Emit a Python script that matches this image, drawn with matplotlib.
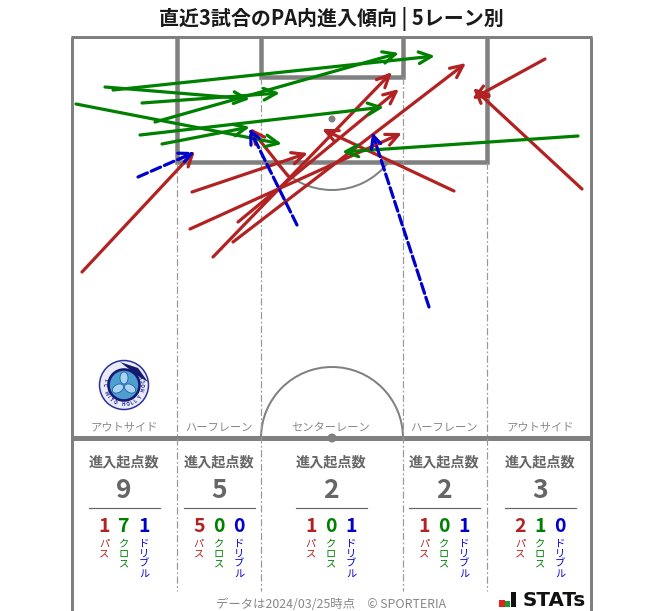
import numpy as np
import matplotlib
matplotlib.use("Agg")
import matplotlib.pyplot as plt
from matplotlib.patches import Circle, Arc, Rectangle, Ellipse, Polygon

plt.rcParams["font.family"] = ["Noto Sans CJK JP", "DejaVu Sans"]

TITLE = "直近3試合のPA内進入傾向 | 5レーン別"
FOOTER = "データは2024/03/25時点　© SPORTERIA"

# arrows: (x0, y0, x1, y1), image pixels
pass_arrows = [
    (82, 272, 195, 151),
    (192, 192, 308, 153),
    (190, 229, 402, 133),
    (238, 222, 399, 89),
    (213, 257, 392, 72),
    (233, 242, 466, 63),
    (288, 176, 250, 128),
    (454, 191, 322, 129),
    (545, 59, 472, 99),
    (582, 189, 473, 88),
]
cross_arrows = [
    (105, 87, 250, 99),
    (113, 90, 435, 56),
    (142, 103, 280, 93),
    (76, 104, 282, 144),
    (155, 122, 399, 53),
    (140, 135, 384, 107),
    (162, 144, 250, 127),
    (578, 136, 342, 152),
]
dribble_arrows = [
    (138, 177, 195, 152),
    (297, 225, 249, 128),
    (429, 307, 372, 132),
]

lane_names = ["アウトサイド", "ハーフレーン", "センターレーン", "ハーフレーン", "アウトサイド"]
lane_centers = [124, 219, 331, 444, 540]
lane_totals = [9, 5, 2, 2, 3]
lane_pass = [1, 5, 1, 1, 2]
lane_cross = [7, 0, 0, 0, 1]
lane_dribble = [1, 0, 1, 1, 0]

RED = "#b22222"
GREEN = "#008000"
BLUE = "#0000cd"
GRAY = "#808080"
TEXT = "#666666"

fig = plt.figure(figsize=(6.63, 6.11), dpi=100)
ax = fig.add_axes([0, 0, 1, 1])
ax.set_xlim(0, 663)
ax.set_ylim(611, 0)
ax.axis("off")


def px(n):
    # line widths are easier to read in pixels
    return n * 0.72


def draw_pitch():
    ax.plot([72, 72], [37, 611], color=GRAY, lw=px(3), solid_capstyle="butt")
    ax.plot([591, 591], [37, 611], color=GRAY, lw=px(3), solid_capstyle="butt")
    ax.plot([71, 592], [37, 37], color=GRAY, lw=px(3), solid_capstyle="butt")
    ax.plot([72, 591], [438, 438], color=GRAY, lw=px(5), solid_capstyle="butt")
    ax.plot([177, 177, 487, 487], [37, 162, 162, 37], color=GRAY, lw=px(4.5),
            solid_joinstyle="miter", solid_capstyle="butt")
    ax.plot([261, 261, 403, 403], [37, 77, 77, 37], color=GRAY, lw=px(4.5),
            solid_joinstyle="miter", solid_capstyle="butt")
    for x in [177, 261, 403, 487]:
        y0 = 77 if x in (261, 403) else 162
        ax.plot([x, x], [y0, 591], color="#999999", lw=px(1.2),
                linestyle=(0, (6, 2, 1.5, 2)))
    # y axis is flipped, so angles run clockwise on screen
    ax.add_patch(Arc((332, 438), 142, 142, theta1=180, theta2=360, color=GRAY, lw=px(2)))
    ax.add_patch(Arc((332, 119), 142, 142, theta1=37, theta2=143, color=GRAY, lw=px(2)))
    ax.add_patch(Circle((332, 119), 3.5, color=GRAY, lw=0))
    ax.add_patch(Circle((332, 438), 4.5, color=GRAY, lw=0, zorder=3))


def draw_arrows(arrows, color, dashed=False):
    style = (0, (3.2, 1.3)) if dashed else "solid"
    for x0, y0, x1, y1 in arrows:
        ax.annotate("", xy=(x1, y1), xytext=(x0, y0), zorder=5,
                    arrowprops=dict(arrowstyle="->,head_length=0.9,head_width=0.42",
                                    color=color, lw=px(3.2), linestyle=style,
                                    shrinkA=0, shrinkB=0))


def draw_counts():
    for i, cx in enumerate(lane_centers):
        ax.text(cx, 428, lane_names[i], ha="center", va="center", color="#888888", fontsize=8.1)
        ax.text(cx, 462, "進入起点数", ha="center", va="center", color=TEXT,
                fontsize=10.2, fontweight="bold")
        ax.text(cx, 491, str(lane_totals[i]), ha="center", va="center", color=TEXT,
                fontsize=19, fontweight="bold")
        ax.plot([cx - 35.5, cx + 35.5], [508, 508], color=TEXT, lw=px(1.2))
        cols = [(lane_pass[i], "パス", RED, -20), (lane_cross[i], "クロス", GREEN, 0),
                (lane_dribble[i], "ドリブル", BLUE, 20)]
        for value, label, color, dx in cols:
            ax.text(cx + dx, 526, str(value), ha="center", va="center", color=color,
                    fontsize=14, fontweight="bold")
            for k, ch in enumerate(label):
                ax.text(cx + dx, 543.5 + k * 10, ch, ha="center", va="center",
                        color=color, fontsize=7.4)


def draw_logo():
    ax.add_patch(Circle((124, 385), 24.5, fc="#e9ecf7", ec="#2a2f9a", lw=px(1.5)))
    ax.add_patch(Circle((124, 385), 15.5, fc="#4f9ed0", ec="#141a70", lw=px(2.6)))
    for a in [90, 210, 330]:
        t = np.deg2rad(a)
        ax.add_patch(Ellipse((124 + 7 * np.cos(t), 385 - 7 * np.sin(t)), 8, 12, angle=-a + 90,
                             fc="#a9d5ee", ec="#1f5fb0", lw=px(0.8)))
    ax.add_patch(Polygon([(120, 362), (138, 368), (148, 382), (138, 376)], fc="#141a70", lw=0))
    name = "FC MITO HOLLY HOCK"
    angles = np.linspace(165, 385, len(name))
    for ch, a in zip(name, angles):
        t = np.deg2rad(a)
        ax.text(124 + 20 * np.cos(t), 385 - 20 * np.sin(t), ch, fontsize=3.4, color="#1c2390",
                ha="center", va="center", rotation=a + 90, fontweight="bold")


def draw_stats_logo():
    ax.add_patch(Rectangle((499, 600), 6, 7, fc="#e2231a", lw=0))
    ax.add_patch(Rectangle((505, 601), 5, 6, fc="#1a9a3a", lw=0))
    ax.add_patch(Rectangle((510.5, 592), 5, 15, fc="#111111", lw=0))
    ax.text(522.5, 600, "STATs", ha="left", va="center", color="#111111", fontsize=14.3,
            fontweight="bold", family=["DejaVu Sans"])


draw_pitch()
draw_arrows(pass_arrows, RED)
draw_arrows(cross_arrows, GREEN)
draw_arrows(dribble_arrows, BLUE, dashed=True)
draw_counts()
draw_logo()
draw_stats_logo()

ax.text(331, 19, TITLE, ha="center", va="center", color="#1a1a1a", fontsize=14.4, fontweight="bold")
ax.text(331, 604, FOOTER, ha="center", va="center", color="#888888", fontsize=8.9)

fig.savefig("out.png", dpi=100)
plt.close(fig)
